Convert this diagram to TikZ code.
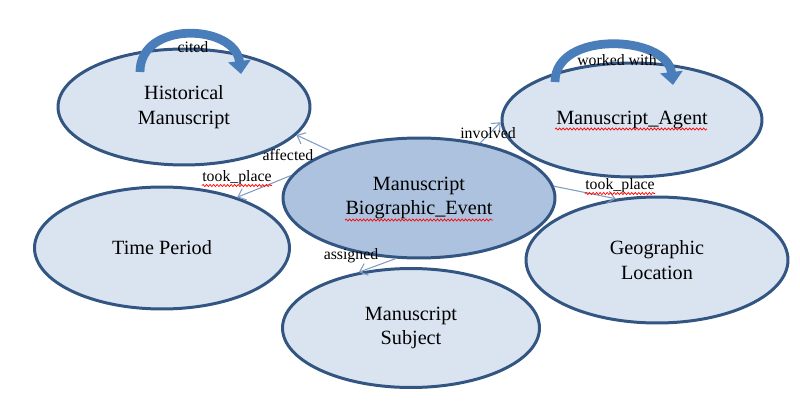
\documentclass[tikz,border=0pt]{standalone}
\usepackage{fontspec}
\setmainfont{Liberation Serif}
\usetikzlibrary{positioning, arrows.meta, shapes.geometric, decorations.pathmorphing}
\usepackage{xcolor}

\definecolor{rimblue}{RGB}{50,85,130}
\definecolor{paleblue}{RGB}{218,228,241}
\definecolor{midblue}{RGB}{172,194,223}
\definecolor{linkgrey}{RGB}{128,156,194}
\definecolor{loopblue}{RGB}{74,126,187}

\begin{document}
\begin{tikzpicture}[
    x=0.02cm, y=-0.02cm,
    entity/.style={draw=rimblue, line width=1.7pt, ellipse, fill=paleblue, align=center, inner sep=0pt, font=\fontsize{11.5}{14}\selectfont},
    event/.style={entity, fill=midblue},
    rel/.style={draw=linkgrey, line width=0.6pt, -{Straight Barb[length=4pt, width=7pt]}},
    selfrel/.style={draw=loopblue, line width=5pt, -{Triangle[width=0.44cm, length=0.26cm]}},
    lbl/.style={inner sep=0pt, font=\fontsize{9}{10}\selectfont},
    spell/.style={draw=red, line width=0.4pt, decorate, decoration={snake, segment length=2pt, amplitude=0.6pt}}
]
    \useasboundingbox (0,0) rectangle (800,418);

    % Entities
    \node[entity, minimum width=5.04cm, minimum height=2.32cm] (hist) at (184,107) {Historical\\Manuscript};
    \node[entity, minimum width=5.2cm, minimum height=2.28cm] (agent) at (632,120) {Manuscript\_Agent};
    \node[entity, minimum width=5.1cm, minimum height=2.44cm] (time) at (162,248) {Time Period};
    \node[entity, minimum width=5.24cm, minimum height=2.52cm] (geo) at (657,260) {Geographic\\Location};
    \node[entity, minimum width=5.14cm, minimum height=2.38cm] (subj) at (411,328) {Manuscript\\Subject};
    \node[event, minimum width=5.44cm, minimum height=2.4cm] (mid) at (419,198) {Manuscript\\Biographic\_Event};

    % Relations
    \draw[rel] (mid.152) -- (hist.-14);
    \draw[rel] (mid.170) -- (time.34);
    \draw[rel] (mid.42) -- (agent.181);
    \draw[rel] (mid.5) -- (geo.124);
    \draw[rel] (mid.-111) -- (subj.133);

    % Self relations
    \draw[selfrel] ([shift={(-44,-35)}]hist.center) .. controls +(0,-52) and +(-6,-50) .. ([shift={(57,-33)}]hist.center);
    \draw[selfrel] ([shift={(-77,-38)}]agent.center) .. controls +(0,-52) and +(-6,-50) .. ([shift={(41,-35)}]agent.center);

    % Labels
    \node[lbl] (cited) at (193,47) {cited};
    \node[lbl] (worked) at (617,60) {worked with};
    \node[lbl] (affected) at (288,155) {affected};
    \node[lbl] (tookl) at (237,178) {took\_place};
    \node[lbl] (involved) at (488,133) {involved};
    \node[lbl] (tookr) at (620,186) {took\_place};
    \node[lbl] (assigned) at (351,256) {assigned};

    % Spelling marks
    \draw[spell] ([shift={(-74,22)}]mid.center) -- ([shift={(74,22)}]mid.center);
    \draw[spell] ([shift={(-77,9)}]agent.center) -- ([shift={(75,9)}]agent.center);
    \draw[spell] (tookl.south west) -- (tookl.south east);
    \draw[spell] (tookr.south west) -- (tookr.south east);

\end{tikzpicture}
\end{document}
